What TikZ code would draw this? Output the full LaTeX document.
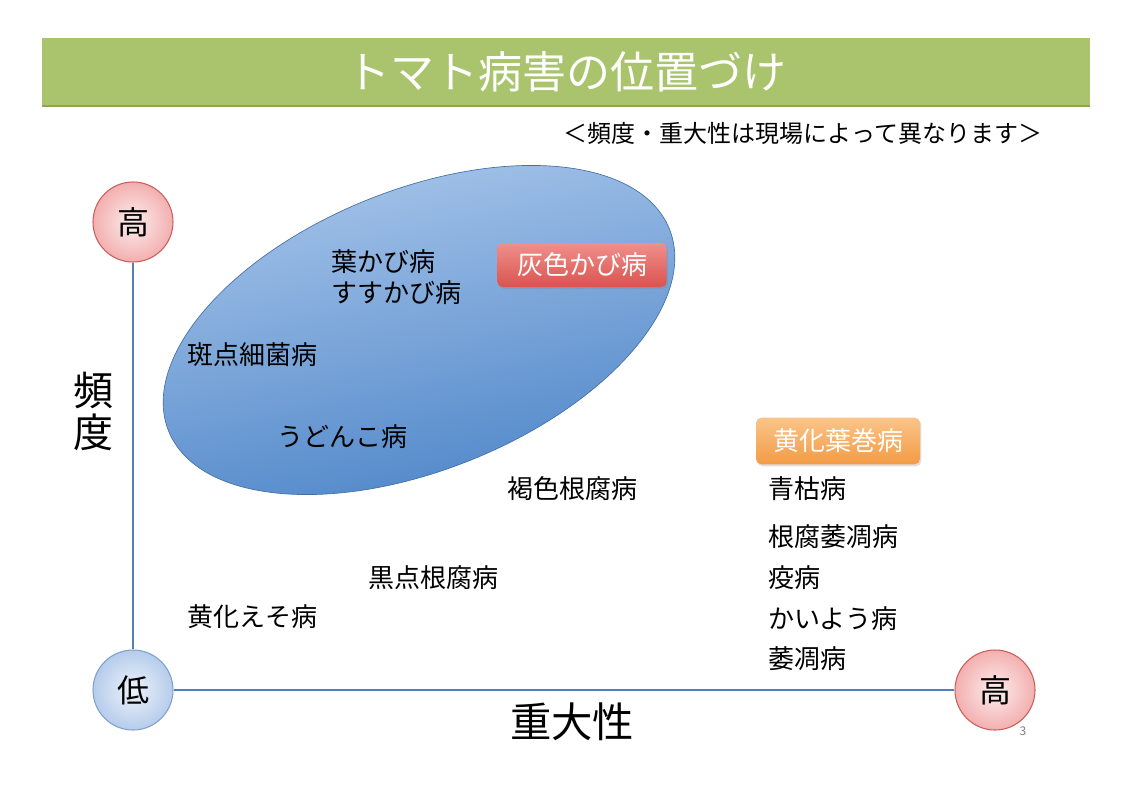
\documentclass[tikz,border=0pt]{standalone}
\usepackage{fontspec}
\setmainfont{Noto Sans CJK JP}
\usetikzlibrary{positioning,shapes.geometric,shadows}
\definecolor{titlegreen}{HTML}{A9C46C}
\definecolor{titleedge}{HTML}{8BA654}
\definecolor{axisblue}{HTML}{4F81BD}
\definecolor{pinkin}{HTML}{FDEEEE}
\definecolor{pinkout}{HTML}{F3AFAF}
\definecolor{pinkedge}{HTML}{C9605C}
\definecolor{bluein}{HTML}{EEF3FA}
\definecolor{blueout}{HTML}{B5CCEB}
\definecolor{blueedge}{HTML}{7FA1CF}
\definecolor{ovaltop}{HTML}{AAC7EB}
\definecolor{ovalbot}{HTML}{4A83C7}
\definecolor{ovaledge}{HTML}{4470A8}
\definecolor{redtop}{HTML}{F0908C}
\definecolor{redbot}{HTML}{D9534F}
\definecolor{orangetop}{HTML}{FAC489}
\definecolor{orangebot}{HTML}{F39B45}
\tikzset{
    axisline/.style={draw=axisblue,line width=2.2pt},
    highdot/.style={circle,draw=pinkedge,line width=0.8pt,inner color=pinkin,outer color=pinkout,minimum size=60pt,inner sep=0pt,font=\fontsize{24}{26}\selectfont},
    lowdot/.style={circle,draw=blueedge,line width=0.8pt,inner color=bluein,outer color=blueout,minimum size=60pt,inner sep=0pt,font=\fontsize{24}{26}\selectfont},
    disease/.style={anchor=west,inner sep=0pt,font=\fontsize{19.5}{22}\selectfont},
    tagbox/.style={rounded corners=4pt,draw=none,text=white,inner sep=0pt,font=\fontsize{19.5}{22}\selectfont,drop shadow={opacity=0.25,shadow xshift=1pt,shadow yshift=-1.5pt}}
}

\begin{document}
\begin{tikzpicture}[x=0.75pt,y=-0.75pt]
    \fill[white] (0,0) rectangle (1132,800);
    % title banner
    \fill[titlegreen] (42,38) rectangle (1090,106);
    \draw[titleedge,line width=1.2pt] (42,106) -- (1090,106);
    \node[text=white,font=\fontsize{33}{36}\selectfont] (title) at (566,72) {トマト病害の位置づけ};
    \node[font=\fontsize{18}{20}\selectfont] (note) at (803,133) {＜頻度・重大性は現場によって異なります＞};

    % oval of frequent diseases
    \node[ellipse,draw=ovaledge,line width=0.5pt,top color=ovaltop,bottom color=ovalbot,shading angle=12,minimum width=405pt,minimum height=210pt,rotate=22] (oval) at (419,330) {};

    % axes
    \node[highdot] (freqhigh) at (133,222) {高};
    \node[lowdot] (low) at (133,690) {低};
    \node[highdot] (sevhigh) at (995,690) {高};
    \draw[axisline] (low) -- (freqhigh);
    \draw[axisline] (low) -- (sevhigh);
    \node[font=\fontsize{30}{31.5}\selectfont,align=center] (freq) at (93,411) {頻\\度};
    \node[font=\fontsize{31}{34}\selectfont] (severity) at (572,722) {重大性};
    \node[text=gray,font=\fontsize{9}{10}\selectfont] (page) at (1023,731) {3};

    % diseases
    \node[tagbox,minimum width=127pt,minimum height=33pt,top color=redtop,bottom color=redbot] (haiiro) at (582,265) {灰色かび病};
    \node[tagbox,minimum width=123pt,minimum height=35pt,top color=orangetop,bottom color=orangebot] (ouka) at (838,441) {黄化葉巻病};
    \node[disease] (hakabi) at (331,262) {葉かび病};
    \node[disease] (susukabi) at (331,293) {すすかび病};
    \node[disease] (hanten) at (187,355) {斑点細菌病};
    \node[disease] (udonko) at (277,437) {うどんこ病};
    \node[disease] (kasshoku) at (507,489) {褐色根腐病};
    \node[disease] (kokuten) at (368,578) {黒点根腐病};
    \node[disease] (oukaeso) at (187,617) {黄化えそ病};
    \node[disease] (aogare) at (768,489) {青枯病};
    \node[disease] (nekusare) at (768,537) {根腐萎凋病};
    \node[disease] (ekibyo) at (768,578) {疫病};
    \node[disease] (kaiyo) at (768,619) {かいよう病};
    \node[disease] (ichou) at (768,659) {萎凋病};
\end{tikzpicture}
\end{document}
